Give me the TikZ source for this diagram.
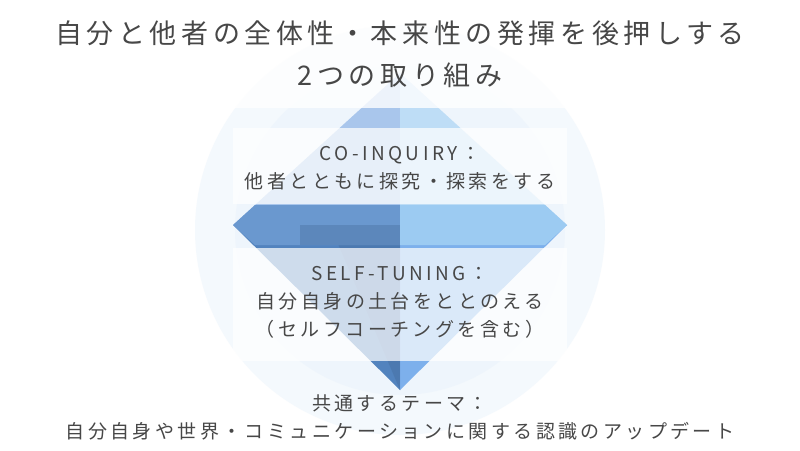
\documentclass[tikz,border=0pt]{standalone}
\usepackage{fontspec}
\newfontfamily\jp[LetterSpace=18]{Noto Sans CJK JP}
\newfontfamily\jpt[LetterSpace=17]{Noto Sans CJK JP}
\definecolor{cl}{HTML}{A9C6EC}
\definecolor{cr}{HTML}{BEDDF6}
\definecolor{pl}{HTML}{5283BE}
\definecolor{pr}{HTML}{7DB0EC}
\definecolor{gl}{HTML}{6A98CF}
\definecolor{gr}{HTML}{9CCBF2}
\definecolor{bg}{HTML}{EEF5FC}
\begin{document}
\begin{tikzpicture}[x=1pt,y=-1pt,
  txt/.style={font=\jp\fontsize{19}{28}\selectfont,text=black!72,align=center},
  ttl/.style={font=\jpt\fontsize{27}{42}\selectfont,text=black!72,align=center}]
\useasboundingbox (0,0) rectangle (800,450);
\fill[white] (0,0) rectangle (800,450);
\fill[bg,opacity=0.6] (400,230) circle (205);
\fill[bg] (400,230) circle (165);
% crown
\fill[cl] (233,225) -- (400,73) -- (400,225) -- cycle;
\fill[cr] (400,73) -- (567,225) -- (400,225) -- cycle;
% pavilion
\fill[pl] (233,225) -- (400,225) -- (400,390) -- cycle;
\fill[pr] (400,225) -- (567,225) -- (400,390) -- cycle;
\fill[pl!80!black,opacity=0.35] (330,225) -- (400,225) -- (400,390) -- cycle;
% girdle band
\fill[gl] (233,225) -- (255,205) -- (400,205) -- (400,245) -- (255,245) -- cycle;
\fill[gr] (567,225) -- (545,205) -- (400,205) -- (400,245) -- (545,245) -- cycle;
\fill[pl!80!black,opacity=0.35] (300,225) -- (400,225) -- (400,245) -- (300,245) -- cycle;
% white bands
\fill[white,opacity=0.8] (0,0) rectangle (800,108);
\fill[white,opacity=0.72] (233,128) rectangle (567,204);
\fill[white,opacity=0.72] (233,248) rectangle (567,361);
\node[ttl] (t) at (400,54) {自分と他者の全体性・本来性の発揮を後押しする\\2つの取り組み};
\node[txt] (a) at (400,168) {CO-INQUIRY：\\他者とともに探究・探索をする};
\node[txt] (b) at (400,302) {SELF-TUNING：\\自分自身の土台をととのえる\\（セルフコーチングを含む）};
\node[txt] (c) at (400,417) {共通するテーマ：\\自分自身や世界・コミュニケーションに関する認識のアップデート};
\end{tikzpicture}
\end{document}
